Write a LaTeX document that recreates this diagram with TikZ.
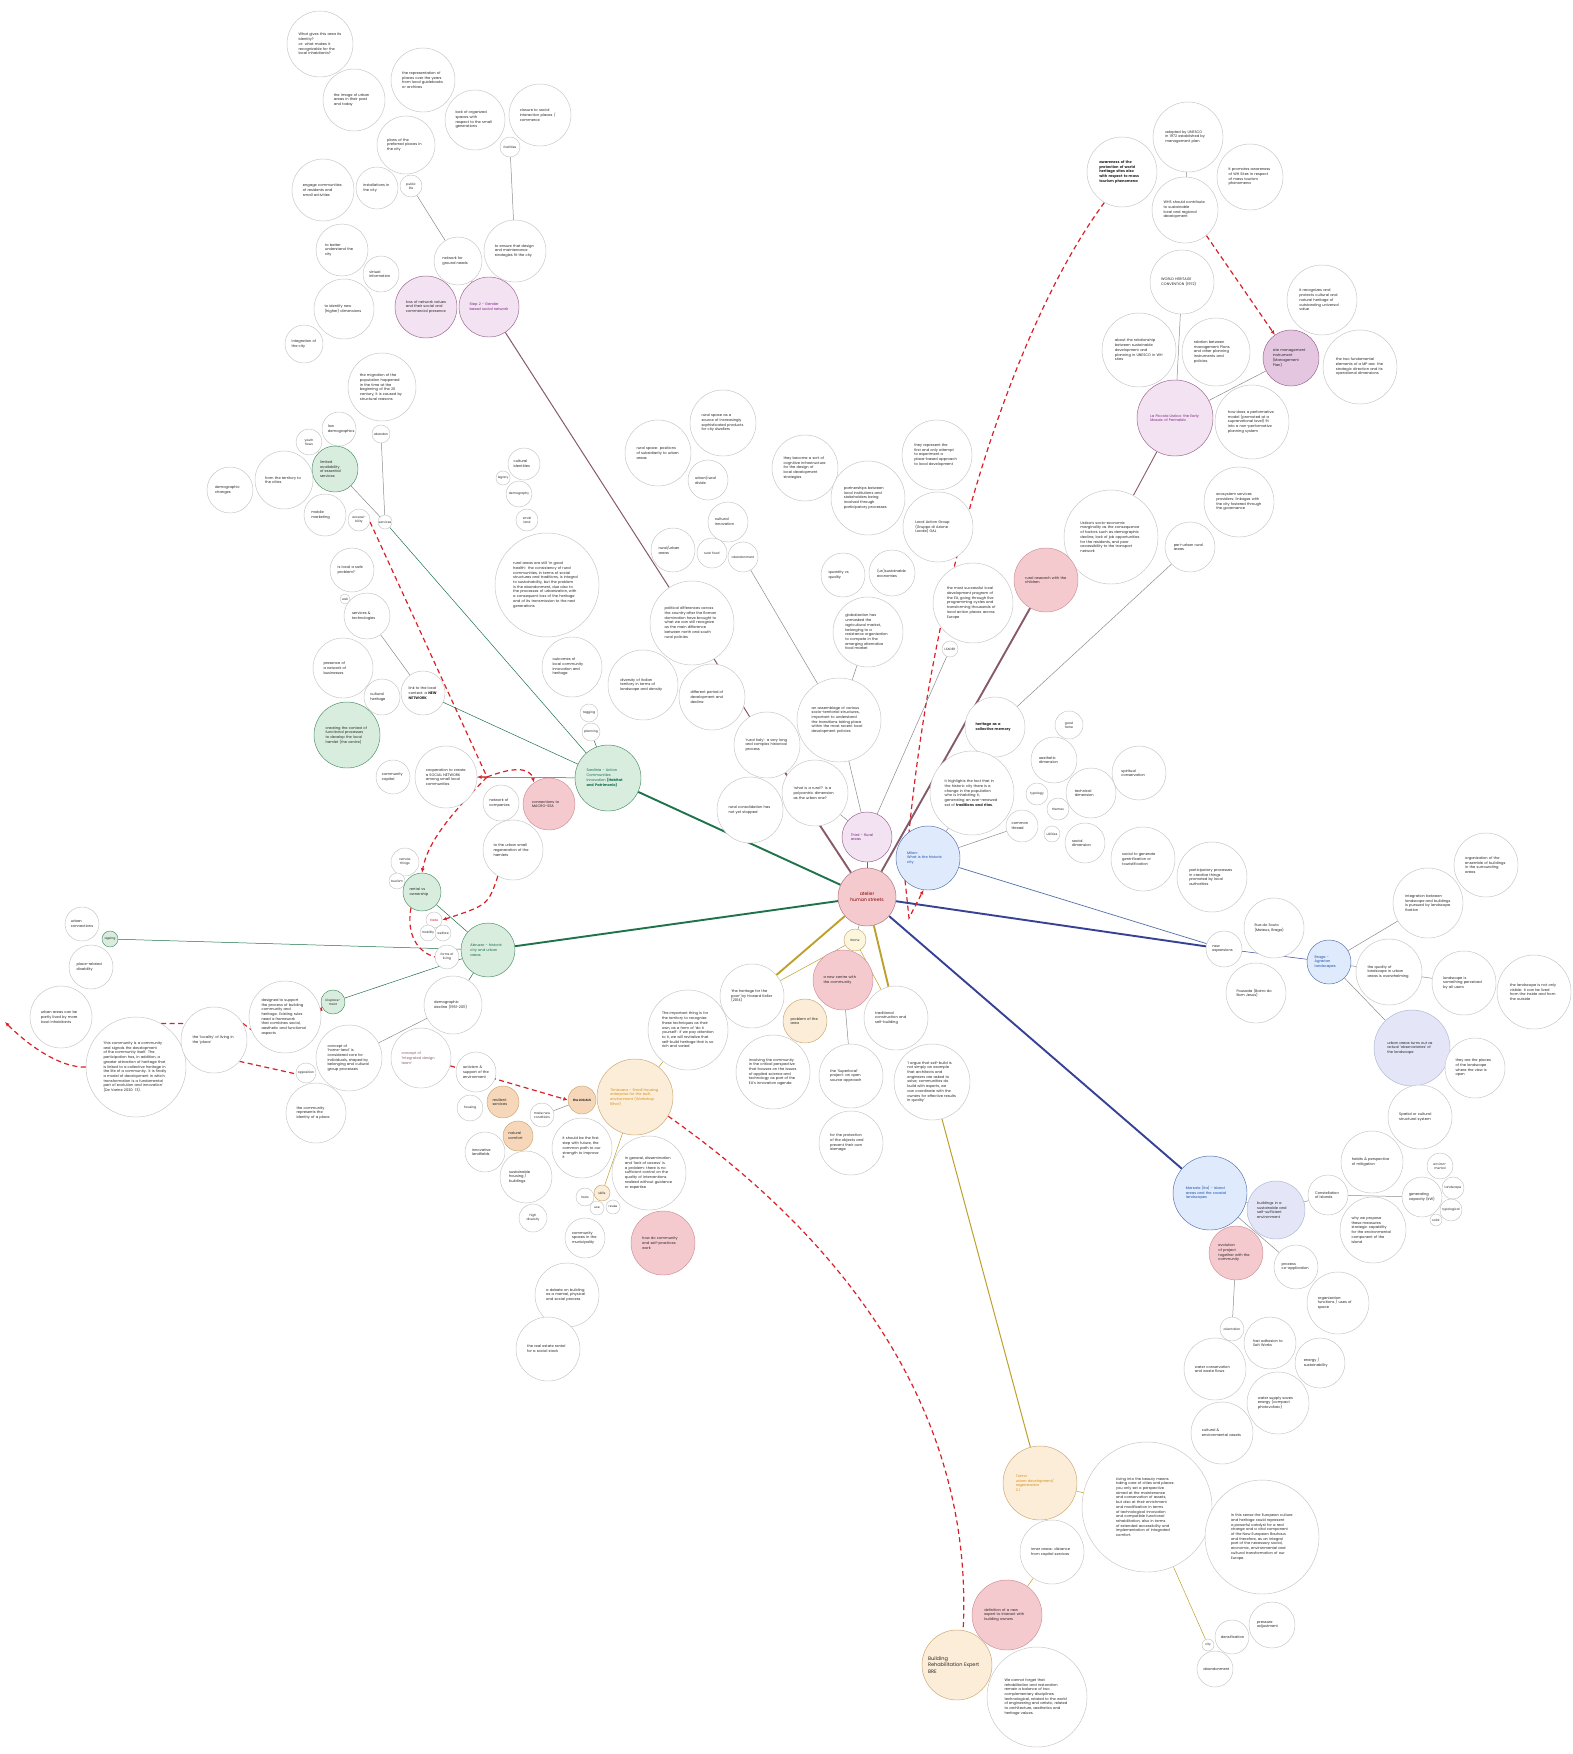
\documentclass[tikz,border=0pt]{standalone}
\usepackage{fontspec}
\setmainfont{Poppins}
\usetikzlibrary{arrows.meta}

\hyphenpenalty=10000
\exhyphenpenalty=10000
\tolerance=9999
\emergencystretch=10pt

\definecolor{ring}{RGB}{196,196,196}
\definecolor{linkgray}{RGB}{140,140,140}
\definecolor{dashred}{RGB}{218,32,40}
\definecolor{pinkfill}{RGB}{245,202,207}
\definecolor{pinkline}{RGB}{205,140,150}
\definecolor{purpfill}{RGB}{243,226,241}
\definecolor{purpline}{RGB}{150,95,140}
\definecolor{purptext}{RGB}{120,40,130}
\definecolor{mgmtfill}{RGB}{228,198,224}
\definecolor{greenfill}{RGB}{217,237,223}
\definecolor{greenline}{RGB}{70,140,100}
\definecolor{greentext}{RGB}{20,110,80}
\definecolor{bluefill}{RGB}{223,235,252}
\definecolor{blueline}{RGB}{80,110,170}
\definecolor{bluetext}{RGB}{30,80,170}
\definecolor{lavfill}{RGB}{229,229,248}
\definecolor{orfill}{RGB}{246,215,186}
\definecolor{orlight}{RGB}{252,237,216}
\definecolor{orline}{RGB}{200,165,110}
\definecolor{ortext}{RGB}{212,142,20}
\definecolor{yelfill}{RGB}{252,246,220}
\definecolor{greenthick}{RGB}{30,115,75}
\definecolor{mauvethick}{RGB}{135,90,105}
\definecolor{navythick}{RGB}{55,65,150}
\definecolor{olivethick}{RGB}{190,160,45}

\pgfdeclarelayer{paper}
\pgfdeclarelayer{wires}
\pgfsetlayers{paper,wires,main}

\begin{document}
\begin{tikzpicture}[x=1pt, y=-1pt,
  bub/.style={circle, draw=ring, fill=white, line width=0.45pt, inner sep=0pt,
    align=left, text=black!85, font=\fontsize{3.6}{4.7}\selectfont},
  rr/.style={minimum size=2*#1pt, text width=1.3*#1pt},
  rs/.style={minimum size=2*#1pt, align=center, font=\fontsize{3.1}{4}\selectfont},
  pinkb/.style={fill=pinkfill, draw=pinkline},
  purpb/.style={fill=purpfill, draw=purpline, text=purptext},
  greenb/.style={fill=greenfill, draw=greenline, text=greentext},
  blueb/.style={fill=bluefill, draw=blueline, text=bluetext},
  lavb/.style={fill=lavfill, draw=blueline!50},
  orb/.style={fill=orfill, draw=orline},
  orlb/.style={fill=orlight, draw=orline},
  link/.style={draw=linkgray, line width=0.5pt},
  spoke/.style={line width=1.9pt},
  redline/.style={draw=dashred, line width=1.2pt, dash pattern=on 5pt off 3.5pt},
  reddash/.style={redline, -{Latex[length=4.5pt,width=4pt]}}]

\begin{pgfonlayer}{paper}
  \fill[white] (0,0) rectangle (1573,1754);
\end{pgfonlayer}
\useasboundingbox (0,0) rectangle (1573,1754);

% centre
\node[bub, rs=29, pinkb, draw=pinkline!80!black, text=red!50!black,
  font=\fontsize{4.6}{6}\selectfont] (atelier) at (867,897) {atelier\\ human streets};

% step - social network (top left)
\node[bub, rr=33] (st1) at (320,44) {What gives this area its identity?\\ or: what makes it recognizable for the local inhabitants?};
\node[bub, rr=31] (st2) at (354,100) {the image of urban areas in their past and today};
\node[bub, rr=32] (st3) at (423,80) {the representation of places over the years from local guidebooks or archives};
\node[bub, rr=30] (st4) at (475,120) {lack of organized spaces with respect to the small generations};
\node[bub, rr=31] (st5) at (540,115) {closure to social interaction places / commerce};
\node[bub, rs=10] (st6) at (510,147) {facilities};
\node[bub, rr=29] (st7) at (406,145) {plans of the preferred places in the city};
\node[bub, rr=31] (st8) at (323,190) {engage communities of residents and small activities};
\node[bub, rr=21] (st9) at (377,188) {installations in the city};
\node[bub, rs=11] (st10) at (411,186) {public\\ life};
\node[bub, rr=26] (st11) at (342,250) {to better understand the city};
\node[bub, rr=18] (st12) at (381,274) {virtual information};
\node[bub, rr=24] (st13) at (458,261) {network for ground needs};
\node[bub, rr=31] (st14) at (515,251) {to ensure that design and maintenance strategies fit the city};
\node[bub, rr=31, purpb, text=black!85] (st15) at (426,307) {loss of network values and their social and commercial presence};
\node[bub, rr=30, purpb] (step) at (489,307) {Step 2 - Gender based social network};
\node[bub, rr=30] (st16) at (344,309) {to identify new (higher) dimensions};
\node[bub, rr=19] (st17) at (304,344) {integration of the city};

% sardinia
\node[bub, rr=34] (g1) at (382,387) {the migration of the population happened in the time at the beginning of the 20 century, it is caused by structural reasons};
\node[bub, rs=9] (g2) at (381,434) {abandon};
\node[bub, rr=17] (g3) at (339,429) {low demographics};
\node[bub, rs=13] (g4) at (309,442) {youth\\ flows};
\node[bub, rr=23, greenb, text=black!85] (g5) at (335,469) {limited availability of essential services};
\node[bub, rr=29] (g6) at (284,480) {from the territory to the cities};
\node[bub, rr=23] (g7) at (230,490) {demographic changes};
\node[bub, rr=21] (g8) at (325,515) {mobile marketing};
\node[bub, rs=11] (g9) at (359,520) {accessi-\\bility};
\node[bub, rs=7] (g10) at (385,522) {services};
\node[bub, rr=22] (g11) at (352,570) {is local a safe problem?};
\node[bub, rs=5] (g12) at (345,599) {well};
\node[bub, rr=23] (g13) at (367,616) {services \& technologies};
\node[bub, rr=30] (g14) at (343,668) {presence of a network of businesses};
\node[bub, rr=18] (g15) at (382,697) {cultural heritage};
\node[bub, rr=22] (g16) at (423,693) {link to the local context: a \textbf{NEW NETWORK}};
\node[bub, rr=33, greenb, text=black!85] (g17) at (347,735) {creating the context of functional processes to develop the local hamlet (the centre)};
\node[bub, rr=17] (g18) at (393,777) {community capital};
\node[bub, rr=31] (g19) at (446,777) {cooperation to create a SOCIAL NETWORK among small local communities};
\node[bub, rr=18] (g20) at (501,803) {network of companies};
\node[bub, rr=26, pinkb] (g21) at (549,804) {connections to MACRO-SEA};
\node[bub, rr=30] (g22) at (513,850) {to the urban small regeneration of the hamlets};
\node[bub, rr=52] (g23) at (547,585) {rural areas are still 'in good health': the consistency of rural communities, in terms of social structures and traditions, is integral to sustainability, but the problem is the abandonment, due also to the processes of urbanization, with a consequent loss of the heritage and of its transmission to the next generations};
\node[bub, rr=30] (g24) at (572,667) {outcomes of local community innovation and heritage};
\node[bub, rs=9] (g25) at (589,713) {tagging};
\node[bub, rs=9] (g26) at (591,732) {planning};
\node[bub, rr=16] (g27) at (524,464) {cultural identities};
\node[bub, rs=7] (g28) at (503,478) {legacy};
\node[bub, rs=13] (g29) at (519,494) {demography};
\node[bub, rs=11] (g30) at (527,520) {small\\ land};
\node[bub, rr=33, greenb] (sardinia) at (608,778) {Sardinia - Action Communities Innovation \textbf{(Habitat and Patrimonio)}};

% rural areas
\node[bub, rr=33] (m1) at (723,423) {rural space as a source of increasingly sophisticated products for city dwellers};
\node[bub, rr=33] (m2) at (658,453) {rural space: positions of subsidiarity to urban areas};
\node[bub, rr=20] (m3) at (708,480) {urban/rural divide};
\node[bub, rr=20] (m4) at (728,522) {cultural innovation};
\node[bub, rr=22] (m5) at (673,550) {rural/urban areas};
\node[bub, rs=15] (m6) at (712,553) {rural 'food'};
\node[bub, rs=15] (m7) at (743,557) {abandonment};
\node[bub, rr=33] (m8) at (805,468) {they become a sort of cognitive infrastructure for the design of local development strategies};
\node[bub, rr=37] (m9) at (868,498) {partnerships between local institutions and stakeholders being involved through participatory processes};
\node[bub, rr=35] (m10) at (937,455) {they represent the first and only attempt to experiment a place-based approach to local development};
\node[bub, rr=35] (m11) at (938,527) {Local Action Group (Gruppo di Azione Locale) GAL};
\node[bub, rr=22] (m12) at (843,575) {quantity vs quality};
\node[bub, rr=23] (m13) at (892,573) {(un)sustainable economies};
\node[bub, rr=35] (m14) at (868,632) {globalization has unmasked the agricultural market, belonging to a resistance organization to compete in the emerging alternative food market};
\node[bub, rr=40] (m15) at (973,603) {the most successful local development program of the EU, going through five programming cycles and transforming thousands of local action places across Europe};
\node[bub, rs=8] (m16) at (950,649) {LEADER};
\node[bub, rr=42] (m17) at (692,623) {political differences across the country after the Roman domination have brought to what we can still recognize as the main difference between north and south rural policies};
\node[bub, rr=35] (m18) at (643,685) {diversity of Italian territory in terms of landscape and density};
\node[bub, rr=33] (m19) at (712,697) {different period of development and decline};
\node[bub, rr=33] (m20) at (767,745) {'rural Italy': a very long and complex historical process};
\node[bub, rr=42] (m21) at (839,720) {an assemblage of various socio-territorial structures, important to understand the transitions taking place within the most recent local development policies};
\node[bub, rr=33] (m22) at (750,810) {rural consolidation has not yet stopped};
\node[bub, rr=33] (m23) at (815,793) {'what is a rural'? is a polycentric dimension as the urban one?};
\node[bub, rr=25, purpb] (third) at (867,837) {Third - Rural areas};

% milan - historic city
\node[bub, rr=32, blueb] (milan) at (928,858) {Milan:\\ What is the historic city};
\node[bub, rr=30] (h1) at (995,727) {\textbf{heritage as a collective memory}};
\node[bub, rr=42] (h2) at (972,793) {it highlights the fact that in the historic city there is a change in the population who is inhabiting it, generating an ever-renewed set of \textbf{traditions and rites}.};
\node[bub, rs=14] (h3) at (1069,725) {good\\ fame};
\node[bub, rr=23] (h4) at (1054,760) {aesthetic dimension};
\node[bub, rr=27] (h5) at (1139,773) {spiritual conservation};
\node[bub, rr=25] (h6) at (1091,793) {technical dimension};
\node[bub, rs=11] (h7) at (1037,794) {typology};
\node[bub, rs=11] (h8) at (1058,809) {themes};
\node[bub, rr=16] (h9) at (1022,826) {common thread};
\node[bub, rs=8] (h10) at (1052,834) {utilities};
\node[bub, rr=20] (h11) at (1085,843) {social dimension};
\node[bub, rr=32] (h12) at (1143,859) {social to generate gentrification or touristification};
\node[bub, rr=35] (h13) at (1212,877) {participatory processes in creative things promoted by local authorities};

% unesco - management plan
\node[bub, rr=35] (aw) at (1122,172) {\textbf{awareness of the protection of world heritage sites also with respect to mass tourism phenomena}};
\node[bub, rr=35] (adopt) at (1188,137) {adopted by UNESCO in 1972 established by management plan};
\node[bub, rr=33] (promo) at (1250,177) {it promotes awareness of WH Sites in respect of mass tourism phenomena};
\node[bub, rr=33] (whs) at (1185,210) {WHS should contribute to sustainable local and regional development};
\node[bub, rr=32] (whc) at (1182,282) {WORLD HERITAGE CONVENTION (1972)};
\node[bub, rr=37] (relsd) at (1139,350) {about the relationship between sustainable development and planning in UNESCO in WH sites};
\node[bub, rr=34] (relmp) at (1216,352) {relation between management Plans and other planning instruments and policies};
\node[bub, rr=28, fill=mgmtfill, draw=purpline] (mp) at (1291,358) {site management instrument (Management Plan)};
\node[bub, rr=35] (recog) at (1322,300) {it recognizes and protects cultural and natural heritage of outstanding universal value};
\node[bub, rr=37] (twoel) at (1360,367) {the two fundamental elements of a MP are: the strategic direction and its operational dimensions};
\node[bub, rr=38, purpb] (rocella) at (1175,418) {La Piccola Ustica: the Early Mosaic of Perinaldo};
\node[bub, rr=37] (perf) at (1252,422) {how does a performative model (promoted at a supranational level) fit into a non-performative planning system};
\node[bub, rr=47] (ustica) at (1111,537) {Ustica's socio-economic marginality as the consequence of factors such as demographic decline, lack of job opportunities for the residents, and poor accessibility to the transport network};
\node[bub, rr=35] (eco) at (1239,502) {ecosystem services providers: linkages with the city fostered through the governance};
\node[bub, rr=25] (peri) at (1190,547) {peri-urban rural areas};
\node[bub, rr=32, pinkb] (hpink) at (1046,580) {rural research with the children};

% braga - agrarian landscapes
\node[bub, rr=18] (newexp) at (1224,949) {new expansions};
\node[bub, rr=30] (rua) at (1274,928) {Rua do Souto (Mateus, Braga)};
\node[bub, rr=30] (porto) at (1256,993) {Pousada (Bairro do Bom Jesus)};
\node[bub, rr=22, blueb] (braga) at (1329,962) {Braga - Agrarian landscapes};
\node[bub, rr=35] (integ) at (1428,903) {integration between landscape and buildings is pursued by landscape fixation};
\node[bub, rr=32] (organ) at (1486,865) {organization of the ensemble of buildings in the surrounding areas};
\node[bub, rr=33] (qual) at (1389,972) {the quality of landscape in urban areas is overwhelming};
\node[bub, rr=32] (lands) at (1464,983) {landscape is something perceived by all users};
\node[bub, rr=37] (far) at (1534,992) {the landscape is not only visible: it can be lived from the inside and from the outside};
\node[bub, rr=38, lavb] (obs) at (1412,1048) {urban areas turns out as actual 'observatories' of the landscape};
\node[bub, rr=30] (they) at (1475,1068) {they are the places of the landscape where the view is open};

% marsala - island areas
\node[bub, rr=37, blueb] (marsala) at (1210,1193) {Marsala (Ita) - Island areas and the coastal landscapes};
\node[bub, rr=29, lavb] (lavm) at (1276,1210) {buildings in a sustainable and self-sufficient environment};
\node[bub, rr=27, pinkb] (pinkm) at (1236,1253) {evolution of project together with the community};
\node[bub, rr=22] (proc) at (1296,1267) {process co-application};
\node[bub, rr=31] (organ2) at (1338,1303) {organization: functions / uses of space};
\node[bub, rs=12] (orient) at (1232,1329) {orientation};
\node[bub, rr=26] (salt) at (1270,1343) {fast adhesion to Salt Works};
\node[bub, rr=31] (water) at (1215,1369) {water conservation and waste flows};
\node[bub, rr=25] (energy) at (1320,1363) {energy / sustainability};
\node[bub, rr=31] (pv) at (1278,1403) {water supply saves energy (compact photovoltaic)};
\node[bub, rr=31] (cultenv) at (1222,1433) {cultural \& environmental assets};
\node[bub, rr=20] (const) at (1328,1195) {Constellation of Islands};
\node[bub, rr=31] (habits) at (1372,1162) {habits \& perspective of mitigation};
\node[bub, rr=33] (why) at (1373,1230) {why we propose these measures: strategic capability for the environmental component of the island};
\node[bub, rr=20] (gen) at (1422,1197) {generating capacity (kW)};
\node[bub, rs=13] (env) at (1440,1166) {environ-\\mental};
\node[bub, rs=11] (lscape) at (1453,1188) {landscape};
\node[bub, rs=11] (typol) at (1451,1210) {typological};
\node[bub, rs=6] (solar) at (1436,1220) {solar};
\node[bub, rr=32] (spat) at (1420,1117) {Spatial or cultural structural system};

% torino - urban development
\node[bub, rr=37, orlb, text=ortext] (trieste) at (1040,1483) {Torino\\ urban development/ regeneration\\ 2.1};
\node[bub, rr=65, text width=62pt] (living) at (1147,1507) {Living into the beauty means taking care of cities and places: you only set a perspective aimed at the maintenance and conservation of assets, but also at their enrichment and modification in terms of technological innovation and compatible functional rehabilitation, also in terms of extended accessibility and implementation of integrated comfort.};
\node[bub, rr=32] (inner) at (1052,1552) {inner areas: distance from capital services};
\node[bub, rr=35, pinkb] (defpink) at (1007,1615) {definition of a new expert to interact with building owners};
\node[bub, rr=35, orlb, text width=58pt, font=\fontsize{5}{6.2}\selectfont] (bre) at (957,1665) {Building\\ Rehabilitation Expert\\ BRE};
\node[bub, rr=50] (forget) at (1037,1697) {We cannot forget that rehabilitation and restoration remain a balance of two complementary disciplines: technological, related to the world of engineering and artistic, related to architecture, aesthetics and heritage values.};
\node[bub, rr=57, text width=62pt] (sense) at (1262,1537) {In this sense the European culture and heritage could represent a powerful catalyst for a real change and a vital component of the New European Bauhaus and therefore, as an integral part of the necessary social, economic, environmental and cultural transformation of our Europe.};
\node[bub, rr=23] (press) at (1272,1625) {pressure adjustment};
\node[bub, rr=17] (dens) at (1232,1637) {densification};
\node[bub, rs=6] (city) at (1208,1645) {city};
\node[bub, rr=18] (aband) at (1215,1669) {abandonment};

% self-building, south of the centre
\node[bub, rs=11, fill=yelfill, draw=orline] (rome) at (855,940) {Rome};
\node[bub, rr=30, pinkb] (ctrpink) at (843,980) {a new centre with the community};
\node[bub, rr=32] (poor) at (752,996) {'the heritage for the poor' by Howard Keller (2014)};
\node[bub, rr=22, orlb] (probarea) at (805,1021) {problem of the area};
\node[bub, rr=32] (tradcon) at (896,1018) {traditional construction and self-building};
\node[bub, rr=40] (thing) at (688,1030) {The important thing is for the territory to recognize these techniques as their own, as a form of 'do it yourself': if we pay attention to it, we will revitalize that self-build heritage that is so rich and varied};
\node[bub, rr=37] (involv) at (773,1072) {involving the community in the critical perspective that focuses on the issues of applied science and technology as part of the EU's innovation agenda};
\node[bub, rr=32] (superl) at (851,1076) {the 'Superlocal' project: an open source approach};
\node[bub, rr=38] (iargue) at (932,1082) {'I argue that self-build is not simply an example that architects and engineers are asked to solve; communities do build with experts, we can coordinate with the owners for effective results in quality'};
\node[bub, rr=32] (protect) at (851,1143) {for the protection of the objects and prevent their own damage};
\node[bub, rr=38, orlb, text=ortext] (varese) at (635,1097) {Timisoara - Small Housing enterprise for the built environment (Workshop Bihor)};
\node[bub, rr=37] (dissem) at (649,1173) {In general, dissemination and 'lack of access' is a problem: there is no sufficient control on the quality of interventions realized without guidance or expertise};
\node[bub, rr=32, pinkb] (howpink) at (663,1243) {how do community and self-practices work};
\node[bub, rs=14, orb] (locals) at (582,1100) {\textbf{the LOCALS}};
\node[bub, rr=30] (firstst) at (582,1148) {it should be the first step with future, the common path to our strength to improve it};
\node[bub, rs=12] (makenew) at (542,1115) {make new\\ conditions};
\node[bub, rr=16, orb] (resil) at (503,1102) {resilient services};
\node[bub, rr=20] (activ) at (476,1072) {activism \& support of the environment};
\node[bub, rs=13] (housing) at (470,1108) {housing};
\node[bub, rr=15, orb] (natcom) at (518,1136) {natural comfort};
\node[bub, rr=20] (landf) at (485,1152) {innovative landfields};
\node[bub, rr=26] (sush) at (526,1177) {sustainable housing / buildings};
\node[bub, rs=14] (highdiv) at (533,1218) {high\\ diversity};
\node[bub, rs=9] (tools) at (585,1197) {tools};
\node[bub, rs=8, orlb] (skills) at (602,1193) {skills};
\node[bub, rs=7] (use) at (597,1208) {use};
\node[bub, rs=7] (reuse) at (613,1207) {reuse};
\node[bub, rr=20] (commsp) at (585,1238) {community spaces in the municipality};
\node[bub, rr=32] (debate) at (567,1295) {a debate on building as a mental, physical and social process};
\node[bub, rr=32] (realest) at (548,1349) {the real estate rental for a social stock};

% abruzzo - historic city
\node[bub, rr=27, greenb] (abruzzo) at (488,950) {Abruzzo - historic city and urban areas};
\node[bub, rs=14] (remote) at (405,862) {remote\\ things};
\node[bub, rs=8] (tourism) at (397,881) {tourism};
\node[bub, rr=19, greenb, text=black!85] (rental) at (422,892) {rental vs ownership};
\node[bub, rs=8, text=dashred] (trade) at (434,920) {trade};
\node[bub, rs=8] (welfare) at (443,933) {welfare};
\node[bub, rs=8] (mobil) at (428,933) {mobility};
\node[bub, rs=12] (forms) at (447,957) {forms of\\ living};
\node[bub, rr=29] (decline) at (453,1005) {demographic decline (1951-2011)};
\node[bub, rr=17] (urbcon) at (82,924) {urban connections};
\node[bub, rs=8, greenb, text=black!85] (ageing) at (110,939) {ageing};
\node[bub, rr=22] (placedis) at (91,967) {place-related disability};
\node[bub, rr=31] (partly) at (61,1017) {urban areas can be partly lived by more local inhabitants};
\node[bub, rr=50] (commbig) at (136,1067) {'this community is a community and signals the development of the community itself. The participation has, in addition, a greater attraction of heritage that is linked to a collective heritage in the life of a community. It is finally a model of development in which transformation is a fundamental part of evolution and innovation' (De Varine 2020: 13).};
\node[bub, rr=33] (locality) at (214,1040) {the 'locality' of living in the 'place'};
\node[bub, rr=36] (designsup) at (285,1017) {designed to support the process of building community and heritage. Existing rules need a framework that combines social, aesthetic and functional aspects};
\node[bub, rs=12, greenb, text=black!85] (disp) at (333,1002) {Displace-\\ment};
\node[bub, rs=10] (oppos) at (306,1073) {opposition};
\node[bub, rr=33] (homeland) at (349,1058) {concept of 'home-land' is considered core for individuals, shaped by belonging and cultural group processes};
\node[bub, rr=30, text=pinkline!70!black] (idt) at (421,1058) {concept of 'Integrated design team'};
\node[bub, rr=30] (repres) at (316,1113) {the community represents the identity of a place};

\coordinate (jn) at (487,777);
\coordinate (lout) at (5,1022);

\begin{pgfonlayer}{wires}
  % thick spokes from the centre
  \draw[spoke, greenthick] (atelier) -- (sardinia);
  \draw[spoke, greenthick] (atelier) -- (abruzzo);
  \draw[spoke, mauvethick] (atelier) -- (m20);
  \draw[spoke, mauvethick] (atelier) -- (hpink);
  \draw[spoke, navythick] (atelier) -- (newexp);
  \draw[spoke, navythick] (atelier) -- (marsala);
  \draw[spoke, olivethick] (atelier) -- (poor);
  \draw[spoke, olivethick] (atelier) -- (tradcon);
  \draw[link, mauvethick] (atelier) -- (third);
  \draw[link] (atelier) -- (rome);

  % rural and step branch
  \draw[link, mauvethick, line width=1pt] (step) -- (m17);
  \draw[link, mauvethick, line width=1pt] (m17) -- (m20);
  \draw[link] (m7) -- (m21);
  \draw[link] (m14) -- (m21);
  \draw[link] (m21) -- (third);
  \draw[link] (m23) -- (third);
  \draw[link] (m16) -- (third);
  \draw[link] (step) -- (st13);
  \draw[link] (st13) -- (st10);
  \draw[link] (st14) -- (st6);

  % milan and unesco
  \draw[link, blueline, line width=0.7pt] (milan) -- (newexp);
  \draw[link] (milan) -- (h9);
  \draw[link] (milan) -- (h2);
  \draw[link] (h1) -- (peri);
  \draw[link, mauvethick, line width=0.9pt] (hpink) -- (ustica);
  \draw[link, mauvethick, line width=0.9pt] (ustica) -- (rocella);
  \draw[link] (rocella) -- (whc);
  \draw[link] (rocella) -- (mp);
  \draw[link] (whs) -- (adopt);

  % braga and marsala
  \draw[link, navythick] (newexp) -- (braga);
  \draw[link] (braga) -- (integ);
  \draw[link] (braga) -- (qual);
  \draw[link] (braga) -- (obs);
  \draw[link] (qual) -- (lands);
  \draw[link] (marsala) -- (lavm);
  \draw[link] (marsala) -- (proc);
  \draw[link] (pinkm) -- (orient);
  \draw[link] (lavm) -- (const);
  \draw[link] (const) -- (gen);

  % torino and self-building
  \draw[link, olivethick, line width=1pt] (iargue) -- (trieste);
  \draw[link, olivethick] (trieste) -- (living);
  \draw[link, olivethick] (trieste) -- (inner);
  \draw[link, olivethick] (inner) -- (defpink);
  \draw[link, olivethick] (living) -- (city);
  \draw[link, olivethick] (rome) -- (poor);
  \draw[link, olivethick] (rome) -- (tradcon);
  \draw[link] (ctrpink) -- (superl);
  \draw[link] (poor) -- (thing);
  \draw[link, olivethick] (thing) -- (varese);
  \draw[link, olivethick] (varese) -- (skills);
  \draw[link] (locals) -- (makenew);

  % abruzzo and sardinia
  \draw[link, greenthick] (abruzzo) -- (ageing);
  \draw[link, greenthick] (abruzzo) -- (rental);
  \draw[link, greenthick] (abruzzo) -- (decline);
  \draw[link, greenthick] (abruzzo) -- (disp);
  \draw[link] (decline) -- (homeland);
  \draw[link, greenthick] (sardinia) -- (g10);
  \draw[link, greenthick] (sardinia) -- (g16);
  \draw[link, greenthick] (sardinia) -- (g19);
  \draw[link, greenthick] (sardinia) -- (g26);
  \draw[link] (g2) -- (g10);
  \draw[link] (g5) -- (g10);
  \draw[link] (g13) -- (g16);

  % red dashed paths
  \draw[reddash] (aw.240) .. controls (1010,330) and (925,600) .. (905,880) -- (909,918) -- (milan.262);
  \draw[reddash] (whs.-50) -- (mp.125);
  \draw[redline] (varese.-30) .. controls (830,1230) and (975,1400) .. (bre.80);
  \draw[reddash] (idt.-15) -- (locals.west);
  \draw[reddash] (g9.-10) -- (jn) -- (g19.east);
  \draw[reddash] (jn) .. controls (510,768) and (530,766) .. (g21.125);
  \draw[reddash] (jn) .. controls (455,810) and (428,840) .. (rental.north);
  \draw[redline] (rental.235) .. controls (406,935) and (418,952) .. (forms.west);
  \draw[reddash] (g22.240) .. controls (488,905) .. (trade.east);
  \draw[redline] (commbig.60) -- (locality.150);
  \draw[redline] (locality.30) -- (designsup.200);
  \draw[reddash] (designsup.10) -- (disp.200);
  \draw[redline] (locality.-40) -- (oppos.185);
  \draw[reddash] (commbig.west) .. controls (60,1068) and (28,1045) .. (lout);
\end{pgfonlayer}
\end{tikzpicture}
\end{document}
